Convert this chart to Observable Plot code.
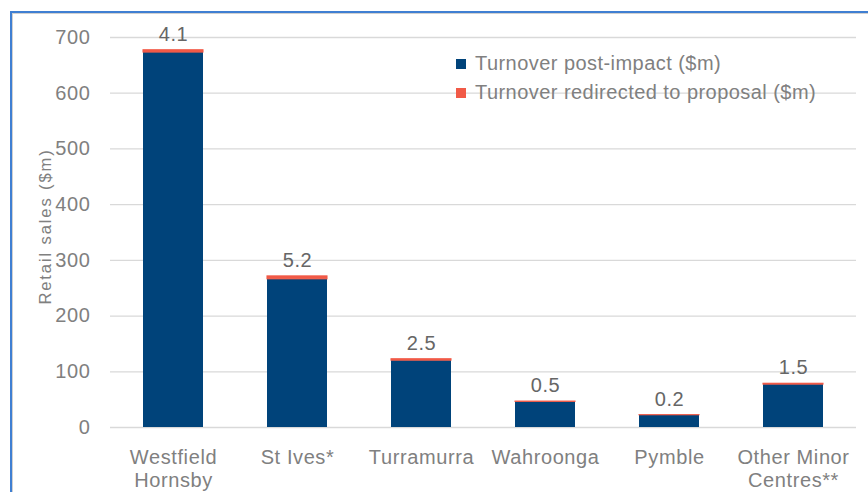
<!DOCTYPE html>
<html>
<head>
<meta charset="utf-8">
<script src="https://cdn.jsdelivr.net/npm/d3@7"></script>
<script src="https://cdn.jsdelivr.net/npm/@observablehq/plot@0.6"></script>
<style>
  html, body { margin: 0; padding: 0; background: #fff; }
  #wrap { position: relative; width: 868px; height: 492px; overflow: hidden; font-family: "Liberation Sans", Arial, sans-serif; }
  #frame { position: absolute; left: 10px; top: 11px; right: -5px; bottom: -5px; border-left: 2px solid #3f7fd2; border-top: 2px solid #3f7fd2; box-shadow: inset 1px 1px 0 #d0d0d0; pointer-events: none; }
  #chart { position: absolute; left: 0; top: 0; }
  #legend { position: absolute; left: 456px; top: 49px; color: #808080; font-size: 20px; letter-spacing: 0.45px; }
  #legend .row { display: flex; align-items: center; height: 29px; }
  #legend .sw { width: 10px; height: 10px; margin-right: 9px; }
</style>
</head>
<body>
<div id="wrap">
  <div id="frame"></div>
  <div id="chart"></div>
  <div id="legend"></div>
</div>
<script>
const categories = ["Westfield\nHornsby", "St Ives*", "Turramurra", "Wahroonga", "Pymble", "Other Minor\nCentres**"];
const postImpact = [673, 266, 120, 46, 22, 77];
const redirected = [4.1, 5.2, 2.5, 0.5, 0.2, 1.5];
const seriesNames = ["Turnover post-impact ($m)", "Turnover redirected to proposal ($m)"];
const seriesColors = ["#00437a", "#f15a47"];
const yTicks = [0, 100, 200, 300, 400, 500, 600, 700];
const yLabel = "Retail sales ($m)";

const blueRows = categories.map((c, i) => ({category: c, series: seriesNames[0], y1: 0, y2: postImpact[i]}));
const redRows = categories.map((c, i) => ({category: c, series: seriesNames[1], y1: postImpact[i], y2: postImpact[i] + redirected[i]}));
const labels = categories.map((c, i) => ({category: c, total: postImpact[i] + redirected[i], text: redirected[i].toFixed(1)}));

const chart = Plot.plot({
  width: 868,
  height: 492,
  marginLeft: 110,
  marginRight: 12,
  marginTop: 37,
  marginBottom: 65,
  style: {fontFamily: "'Liberation Sans', Arial, sans-serif", fontSize: "20px", color: "#808080", background: "transparent", letterSpacing: "0.6px"},
  x: {domain: categories, paddingInner: 0.52, paddingOuter: 0.26},
  y: {domain: [0, 700]},
  color: {domain: seriesNames, range: seriesColors},
  marks: [
    Plot.gridY(yTicks, {stroke: "#d9d9d9", strokeOpacity: 1, strokeWidth: 1.3}),
    Plot.barY(blueRows, {x: "category", y1: "y1", y2: "y2", fill: "series"}),
    Plot.barY(redRows, {x: "category", y1: "y1", y2: "y2", fill: "series", stroke: "series", strokeWidth: 1.1}),
    Plot.text(labels, {x: "category", y: "total", text: "text", dy: -16, lineAnchor: "middle", fill: "#666666", fontSize: 20}),
    Plot.axisY({ticks: yTicks, tickSize: 0, tickPadding: 20, fontSize: 20, label: null}),
    Plot.axisX({tickSize: 0, tickPadding: 20, fontSize: 20, lineHeight: 1.15, label: null}),
    Plot.text([yLabel], {frameAnchor: "left", text: d => d, rotate: -90, dx: -65, dy: -6, textAnchor: "middle", fill: "#808080", fontSize: 16.5})
  ]
});
d3.select(chart).selectAll("text").filter(function() { return this.textContent === yLabel; })
  .style("letter-spacing", "1.9px");
document.getElementById("chart").appendChild(chart);

const legend = document.getElementById("legend");
seriesNames.forEach((name, i) => {
  const row = document.createElement("div");
  row.className = "row";
  const sw = document.createElement("div");
  sw.className = "sw";
  sw.style.background = seriesColors[i];
  const t = document.createElement("span");
  t.textContent = name;
  row.appendChild(sw);
  row.appendChild(t);
  legend.appendChild(row);
});
</script>
</body>
</html>
